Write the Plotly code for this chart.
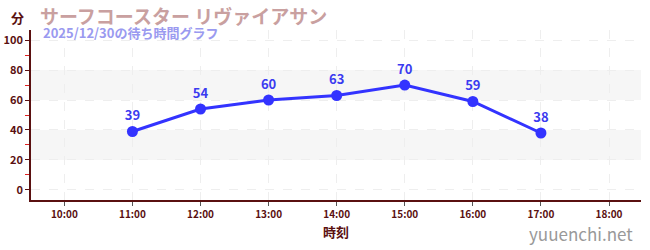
import plotly.graph_objects as go

hours = [11, 12, 13, 14, 15, 16, 17]
waits = [39, 54, 60, 63, 70, 59, 38]
tick_hours = [10, 11, 12, 13, 14, 15, 16, 17, 18]
tick_labels = ["10:00", "11:00", "12:00", "13:00", "14:00", "15:00", "16:00", "17:00", "18:00"]
y_ticks = [0, 20, 40, 60, 80, 100]
bands = [(20, 40), (60, 80)]

title = "サーフコースター リヴァイアサン"
subtitle = "2025/12/30の待ち時間グラフ"

JP = "Noto Sans CJK JP"
AX = "#5a1010"

fig = go.Figure()
for lo, hi in bands:
    fig.add_hrect(y0=lo, y1=hi, fillcolor="#f6f6f6", line_width=0, layer="below")

fig.add_trace(go.Scatter(
    x=hours, y=waits, mode="lines+markers+text",
    line=dict(color="#3333ff", width=3),
    marker=dict(color="#3333ff", size=11),
    text=["<b>" + str(v) + "</b>" for v in waits], textposition="top center",
    textfont=dict(color="#3b3bf0", size=13, family=JP),
    cliponaxis=False, hoverinfo="skip",
))

fig.update_layout(
    width=650, height=250,
    margin=dict(l=31, r=9, t=30, b=50),
    plot_bgcolor="white", paper_bgcolor="white",
    showlegend=False,
    font=dict(family=JP, color=AX),
)
fig.update_xaxes(
    range=[9.51, 18.47], tickvals=tick_hours, ticktext=["<b>" + t + "</b>" for t in tick_labels],
    automargin=False,
    showline=True, linecolor=AX, linewidth=1.5,
    ticks="outside", ticklen=4, tickcolor="#555555",
    tickfont=dict(size=10, color=AX, family=JP),
    showgrid=True, gridcolor="#eeeeee", griddash="dash", gridwidth=1,
    zeroline=False,
    title=dict(text="<b>時刻</b>", font=dict(size=13, color=AX, family=JP), standoff=8),
)
fig.update_yaxes(
    range=[-6.7, 106.7], tickvals=y_ticks, ticktext=["<b>%d</b>" % v for v in y_ticks],
    automargin=False,
    showline=True, linecolor=AX, linewidth=1.5,
    ticks="outside", ticklen=4, tickcolor=AX,
    tickfont=dict(size=11, color=AX, family=JP),
    showgrid=True, gridcolor="#eeeeee", griddash="dash", gridwidth=1,
    zeroline=False,
    minor=dict(tickvals=[10, 30, 50, 70, 90], ticks="outside", ticklen=4, tickcolor="#dd2222", showgrid=False),
)

fig.add_annotation(text="<b>分</b>", xref="paper", yref="paper", x=-0.008, y=1.0, yanchor="middle", xanchor="right",
                   yshift=13, showarrow=False, font=dict(size=13, color=AX, family=JP))
fig.add_annotation(text="<b>" + title + "</b>", xref="paper", yref="paper", x=0.011, y=1.0, xanchor="left",
                   yanchor="middle", yshift=15, showarrow=False, font=dict(size=19, color="#c9a0a0", family=JP))
fig.add_annotation(text="<b>" + subtitle + "</b>", xref="paper", yref="paper", x=0.016, y=1.0, xanchor="left",
                   yanchor="middle", yshift=-2, showarrow=False, font=dict(size=13, color="#9a9af0", family=JP))
fig.add_annotation(text="yuuenchi.net", xref="paper", yref="paper", x=0.99, y=-0.195, xanchor="right",
                   yanchor="middle", showarrow=False, font=dict(size=17, color="#999999", family=JP))

fig.write_html("out.html")
